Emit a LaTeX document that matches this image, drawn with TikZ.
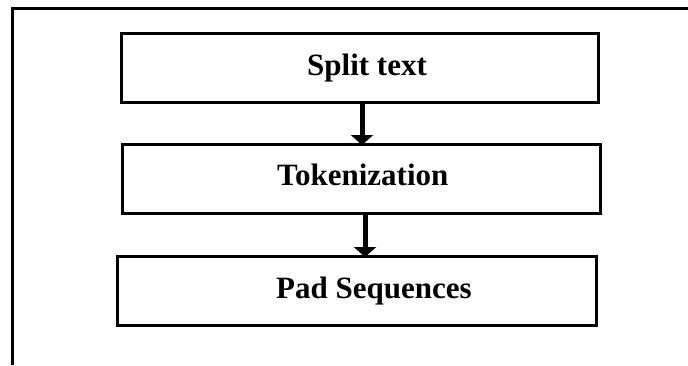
\documentclass[tikz,border=0pt]{standalone}
\usepackage{fontspec}
\setmainfont{Liberation Serif}
\usetikzlibrary{arrows.meta}
\begin{document}
\begin{tikzpicture}[x=1pt,y=-1pt,
  box/.style={draw=black,line width=3pt,rectangle,inner sep=0pt,outer sep=0pt},
  lbl/.style={anchor=base west,inner sep=0pt,font=\fontsize{31}{37}\selectfont\bfseries},
  flow/.style={line width=5pt,-{Triangle[width=22pt,length=10pt]},shorten >=-1pt},
  frame/.style={line width=3pt}]
  \useasboundingbox (0,0) rectangle (688,365);
  % outer frame (top and left edges)
  \coordinate (fr-tr) at (688,8);
  \coordinate (fr-tl) at (12,8);
  \coordinate (fr-bl) at (12,365);
  \draw[frame] (fr-tr) -- (fr-tl) -- (fr-bl);
  % process boxes
  \node[box,minimum width=477pt,minimum height=69pt] (b1) at (360,67.5) {};
  \node[box,minimum width=478pt,minimum height=69pt] (b2) at (361.5,178.5) {};
  \node[box,minimum width=479pt,minimum height=69pt] (b3) at (357,290.5) {};
  % labels
  \node[lbl] (t1) at (307,75) {Split text};
  \node[lbl] (t2) at (277,185) {Tokenization};
  \node[lbl] (t3) at (276,298) {Pad Sequences};
  % arrows between steps
  \coordinate (a1) at (362,0);
  \coordinate (a2) at (365,0);
  \draw[flow] (b1.south -| a1) -- (b2.north -| a1);
  \draw[flow] (b2.south -| a2) -- (b3.north -| a2);
\end{tikzpicture}
\end{document}
